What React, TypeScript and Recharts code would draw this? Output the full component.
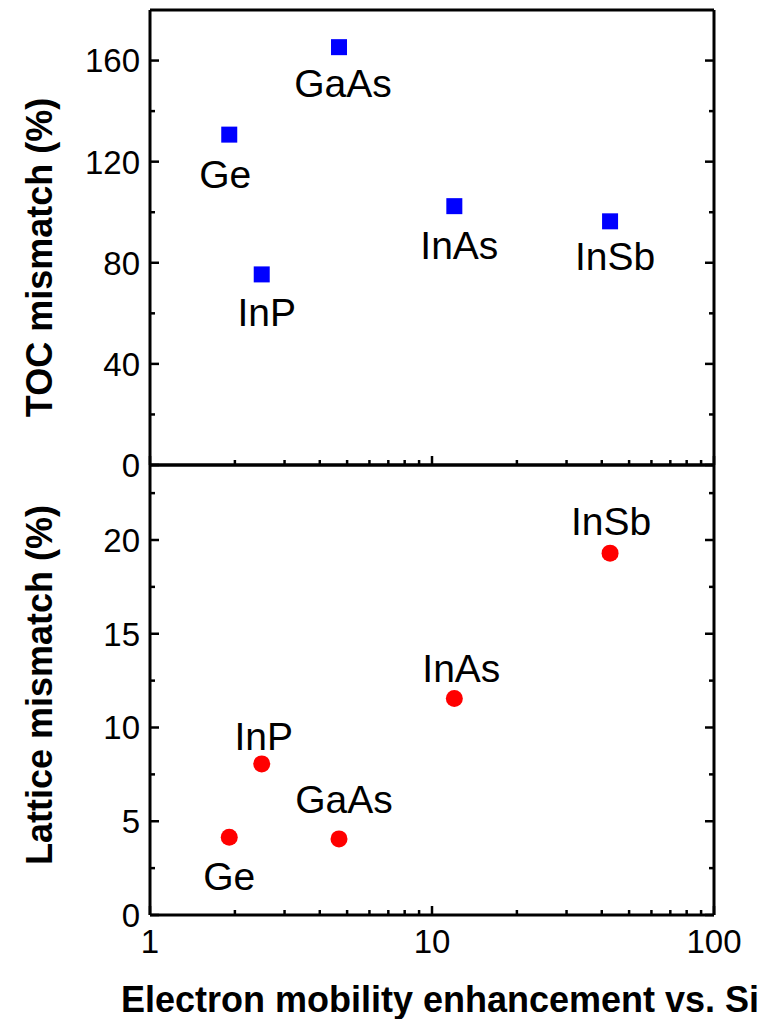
import React from "react"
import { ScatterChart, Scatter, XAxis, YAxis } from "recharts"

// values
const materials = ["Ge", "InP", "GaAs", "InAs", "InSb"]
const mobilityEnhancement = [1.91, 2.49, 4.68, 12.0, 42.8]
const tocMismatch = [130.7, 75.4, 165.3, 102.4, 96.4]
const latticeMismatch = [4.15, 8.06, 4.06, 11.55, 19.3]

// axis ticks
const xTicks = [1, 2, 3, 4, 5, 6, 7, 8, 9, 10, 20, 30, 40, 50, 60, 70, 80, 90, 100]
const xLabels = [1, 10, 100]
const tocTicks = [0, 20, 40, 60, 80, 100, 120, 140, 160]
const tocLabels = [0, 40, 80, 120, 160]
const latticeTicks = [0, 2.5, 5, 7.5, 10, 12.5, 15, 17.5, 20, 22.5]
const latticeLabels = [0, 5, 10, 15, 20]

// label placement (dx, dy of text centre from the marker)
const topLabelOffsets = [[-4, 39], [5, 38], [4, 36], [5, 39], [5, 35]]
const bottomLabelOffsets = [[0, 39], [2, -28], [5, -40], [7, -30], [1, -32]]

const FONT = '"Liberation Sans", Arial, Helvetica, sans-serif'
const W = 769

const tocData = materials.map((name, i) => ({ name, x: mobilityEnhancement[i], y: tocMismatch[i] }))
const latticeData = materials.map((name, i) => ({ name, x: mobilityEnhancement[i], y: latticeMismatch[i] }))

function xTick(dir: number, showLabels: boolean) {
  return function XTick(props: any) {
    const { x, y, payload } = props
    const major = xLabels.includes(payload.value)
    const len = major ? 9 : 5
    return (
      <g>
        <path d={`M${x},${y}L${x},${y + dir * len}`} stroke="#000" strokeWidth={2.5} fill="none" />
        {showLabels && major && (
          <text x={x} y={y + 38} textAnchor="middle" fontSize={33} fontFamily={FONT} fill="#000">
            {payload.value}
          </text>
        )}
      </g>
    )
  }
}

function yTick(dir: number, labels: number[], showLabels: boolean) {
  return function YTick(props: any) {
    const { x, y, payload } = props
    const major = labels.includes(payload.value)
    const len = major ? 9 : 5
    return (
      <g>
        <path d={`M${x},${y}L${x + dir * len},${y}`} stroke="#000" strokeWidth={2.5} fill="none" />
        {showLabels && major && (
          <text x={x - 10} y={y} dy="0.36em" textAnchor="end" fontSize={33} fontFamily={FONT} fill="#000">
            {payload.value}
          </text>
        )}
      </g>
    )
  }
}

function yTitle(text: string, shift: number) {
  return function YTitle(props: any) {
    const vb = props.viewBox || { x: 0, y: 0, width: 150, height: 450 }
    const cx = 39
    const cy = vb.y + vb.height / 2 + shift
    return (
      <text
        x={cx}
        y={cy}
        dy="0.36em"
        textAnchor="middle"
        transform={`rotate(-90, ${cx}, ${cy})`}
        fontSize={36}
        fontWeight="bold"
        fontFamily={FONT}
        fill="#000"
      >
        {text}
      </text>
    )
  }
}

function XTitle(props: any) {
  const vb = props.viewBox || { x: 150, y: 475, width: 564, height: 104 }
  return (
    <text
      x={vb.x + vb.width / 2 + 8}
      y={vb.y + 97}
      textAnchor="middle"
      fontSize={36}
      fontWeight="bold"
      fontFamily={FONT}
      fill="#000"
    >
      Electron mobility enhancement vs. Si
    </text>
  )
}

function pointShape(kind: "square" | "circle", offsets: number[][]) {
  return function Point(props: any) {
    const { cx, cy, payload } = props
    const i = materials.indexOf(payload.name)
    const [dx, dy] = offsets[i]
    return (
      <g>
        {kind === "square" ? (
          <rect x={cx - 8} y={cy - 8} width={16} height={16} fill="#0000ff" />
        ) : (
          <circle cx={cx} cy={cy} r={8.5} fill="#ff0000" />
        )}
        <text x={cx + dx} y={cy + dy} dy="0.36em" textAnchor="middle" fontSize={39} fontFamily={FONT} fill="#000">
          {payload.name}
        </text>
      </g>
    )
  }
}

const axisLine = { stroke: "#000", strokeWidth: 3 }

function Panel(props: {
  data: any[]
  height: number
  margin: any
  bottomHeight: number
  yDomain: number[]
  yTicks: number[]
  yLabels: number[]
  showX: boolean
  title: string
  titleShift: number
  kind: "square" | "circle"
  offsets: number[][]
}) {
  const p = props
  return (
    <ScatterChart width={W} height={p.height} margin={p.margin}>
      <XAxis
        dataKey="x"
        type="number"
        scale="log"
        domain={[1, 100]}
        ticks={xTicks}
        interval={0}
        height={p.bottomHeight}
        tickSize={0}
        tickMargin={0}
        tickLine={false}
        axisLine={axisLine}
        tick={xTick(-1, p.showX)}
        label={p.showX ? { content: XTitle } : undefined}
        allowDataOverflow
      />
      <XAxis
        xAxisId="t"
        orientation="top"
        type="number"
        scale="log"
        domain={[1, 100]}
        ticks={xTicks}
        interval={0}
        height={1}
        tickSize={0}
        tickMargin={0}
        tickLine={false}
        axisLine={axisLine}
        tick={xTick(1, false)}
        allowDataOverflow
      />
      <YAxis
        dataKey="y"
        type="number"
        domain={p.yDomain}
        ticks={p.yTicks}
        interval={0}
        width={150}
        tickSize={0}
        tickMargin={0}
        tickLine={false}
        axisLine={axisLine}
        tick={yTick(1, p.yLabels, true)}
        label={{ content: yTitle(p.title, p.titleShift) }}
        allowDataOverflow
      />
      <YAxis
        yAxisId="r"
        orientation="right"
        type="number"
        domain={p.yDomain}
        ticks={p.yTicks}
        interval={0}
        width={55}
        tickSize={0}
        tickMargin={0}
        tickLine={false}
        axisLine={axisLine}
        tick={yTick(-1, p.yLabels, false)}
        allowDataOverflow
      />
      <Scatter data={p.data} isAnimationActive={false} shape={pointShape(p.kind, p.offsets)} />
    </ScatterChart>
  )
}

export default function App() {
  return (
    <div style={{ position: "absolute", left: 0, top: 0, width: W, height: 1019 }}>
      <div style={{ position: "absolute", left: 0, top: 0 }}>
        <Panel
          data={tocData}
          height={500}
          margin={{ top: 9, right: 0, bottom: 34, left: 0 }}
          bottomHeight={1}
          yDomain={[0, 180]}
          yTicks={tocTicks}
          yLabels={tocLabels}
          showX={false}
          title="TOC mismatch (%)"
          titleShift={20}
          kind="square"
          offsets={topLabelOffsets}
        />
      </div>
      <div style={{ position: "absolute", left: 0, top: 440 }}>
        <Panel
          data={latticeData}
          height={579}
          margin={{ top: 24, right: 0, bottom: 0, left: 0 }}
          bottomHeight={104}
          yDomain={[0, 24]}
          yTicks={latticeTicks}
          yLabels={latticeLabels}
          showX={true}
          title="Lattice mismatch (%)"
          titleShift={-5}
          kind="circle"
          offsets={bottomLabelOffsets}
        />
      </div>
    </div>
  )
}
